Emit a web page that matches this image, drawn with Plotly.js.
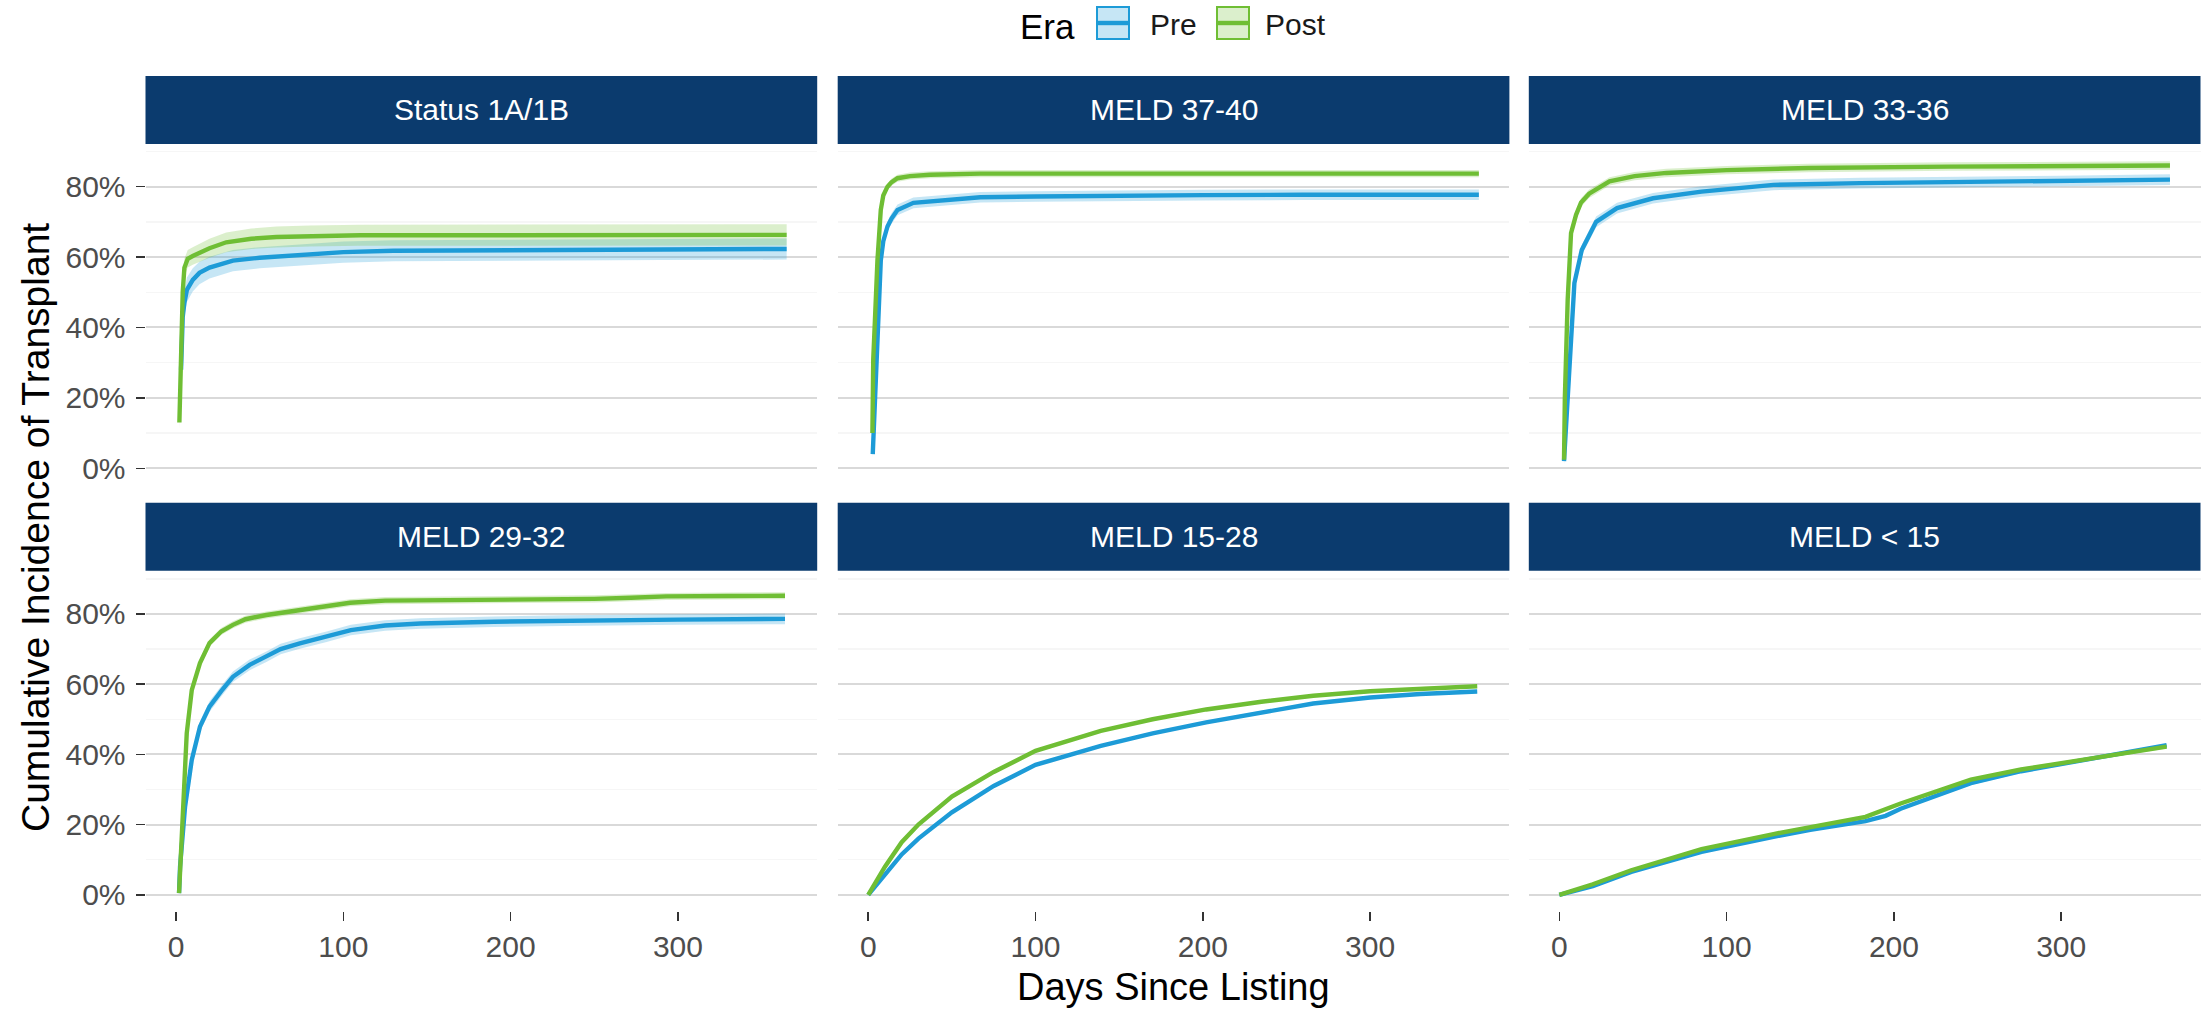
<!DOCTYPE html>
<html>
<head>
<meta charset="utf-8">
<script src="https://cdn.plot.ly/plotly-3.0.1.min.js"></script>
<style>
html,body{margin:0;padding:0;background:#fff;}
#chart{width:2211px;height:1015px;}
</style>
</head>
<body>
<div id="chart"></div>
<script>
// ---------------- DATA ----------------
const panelTitles = ['Status 1A/1B', 'MELD 37-40', 'MELD 33-36', 'MELD 29-32', 'MELD 15-28', 'MELD < 15'];
const eraNames = ['Pre', 'Post'];
const xTickVals = [0, 100, 200, 300];
const yTickVals = [0, 0.2, 0.4, 0.6, 0.8];
const yTickText = ['0%', '20%', '40%', '60%', '80%'];

// Status 1A/1B
const p1PreDay  = [3, 4, 5, 6.5, 10, 14, 20, 34, 50, 74, 100, 130, 200, 280, 365];
const p1PreVal  = [0.28, 0.43, 0.47, 0.507, 0.535, 0.555, 0.57, 0.59, 0.598, 0.606, 0.614, 0.618, 0.62, 0.621, 0.623];
const p1PreHw   = [0.03, 0.035, 0.035, 0.035, 0.033, 0.032, 0.031, 0.03, 0.03, 0.03, 0.03, 0.03, 0.03, 0.03, 0.03];
const p1PostDay = [2, 3, 4, 5, 7, 10, 14, 20, 30, 45, 60, 80, 110, 200, 365];
const p1PostVal = [0.13, 0.35, 0.5, 0.57, 0.595, 0.603, 0.612, 0.625, 0.642, 0.652, 0.657, 0.66, 0.662, 0.662, 0.663];
const p1PostHw  = [0.02, 0.025, 0.025, 0.025, 0.025, 0.025, 0.026, 0.027, 0.028, 0.029, 0.03, 0.03, 0.03, 0.03, 0.03];

// MELD 37-40
const p2PreDay  = [2.7, 4, 5.2, 6.3, 7.5, 9, 11.5, 14, 17.5, 27, 47, 67, 100, 150, 200, 260, 320, 365];
const p2PreVal  = [0.04, 0.2, 0.32, 0.48, 0.59, 0.645, 0.687, 0.71, 0.734, 0.754, 0.763, 0.77, 0.772, 0.775, 0.776, 0.777, 0.777, 0.777];
const p2PreHw   = [0.01, 0.015, 0.015, 0.015, 0.015, 0.015, 0.015, 0.015, 0.015, 0.015, 0.015, 0.015, 0.015, 0.015, 0.015, 0.015, 0.015, 0.015];
const p2PostDay = [2.5, 3, 4, 5.5, 7.5, 9, 11.5, 14, 17.5, 25, 37, 67, 100, 150, 200, 260, 320, 365];
const p2PostVal = [0.10, 0.31, 0.42, 0.59, 0.734, 0.775, 0.80, 0.813, 0.824, 0.83, 0.834, 0.837, 0.837, 0.837, 0.838, 0.838, 0.838, 0.837];
const p2PostHw  = [0.01, 0.01, 0.01, 0.01, 0.01, 0.01, 0.01, 0.01, 0.01, 0.01, 0.01, 0.01, 0.01, 0.01, 0.01, 0.01, 0.01, 0.01];

// MELD 33-36
const p3PreDay  = [2.8, 4, 5, 7, 9, 13.4, 22, 34.5, 56, 85, 128, 180, 233, 300, 365];
const p3PreVal  = [0.02, 0.12, 0.195, 0.384, 0.526, 0.62, 0.70, 0.739, 0.767, 0.786, 0.805, 0.81, 0.812, 0.816, 0.82];
const p3PreHw   = [0.01, 0.015, 0.015, 0.015, 0.015, 0.015, 0.015, 0.015, 0.015, 0.015, 0.015, 0.015, 0.015, 0.015, 0.015];
const p3PostDay = [2.8, 3.3, 5, 7, 10, 13, 17.8, 30, 45, 64, 100, 149, 233, 300, 365];
const p3PostVal = [0.024, 0.2, 0.48, 0.668, 0.72, 0.755, 0.78, 0.815, 0.83, 0.839, 0.847, 0.853, 0.857, 0.859, 0.86];
const p3PostHw  = [0.01, 0.012, 0.012, 0.012, 0.012, 0.012, 0.012, 0.012, 0.012, 0.012, 0.012, 0.012, 0.012, 0.012, 0.012];

// MELD 29-32
const p4PreDay  = [1.8, 2.4, 5.4, 9.4, 14.3, 20, 27, 34, 44, 54, 62.5, 74, 90, 104.5, 125, 146, 190, 230, 300, 364];
const p4PreVal  = [0.005, 0.08, 0.251, 0.384, 0.479, 0.536, 0.58, 0.621, 0.655, 0.678, 0.70, 0.716, 0.735, 0.754, 0.767, 0.773, 0.778, 0.781, 0.784, 0.786];
const p4PreHw   = [0.005, 0.01, 0.015, 0.015, 0.015, 0.015, 0.015, 0.015, 0.015, 0.015, 0.015, 0.015, 0.015, 0.015, 0.015, 0.015, 0.015, 0.015, 0.015, 0.015];
const p4PostDay = [1.8, 3.4, 6.4, 9.4, 14.3, 20, 27, 34, 41.5, 54, 74, 104, 125, 188, 250, 272, 293, 330, 364];
const p4PostVal = [0.005, 0.176, 0.46, 0.583, 0.66, 0.717, 0.75, 0.769, 0.785, 0.797, 0.811, 0.832, 0.838, 0.84, 0.843, 0.846, 0.85, 0.851, 0.852];
const p4PostHw  = [0.005, 0.01, 0.01, 0.01, 0.01, 0.01, 0.01, 0.01, 0.01, 0.01, 0.01, 0.01, 0.01, 0.01, 0.01, 0.01, 0.01, 0.01, 0.01];

// MELD 15-28
const p5PreDay  = [0, 5, 10, 20, 30, 50, 75, 100, 139, 170, 202, 235, 266, 300, 330, 364];
const p5PreVal  = [0, 0.03, 0.06, 0.115, 0.16, 0.235, 0.31, 0.37, 0.424, 0.46, 0.491, 0.52, 0.545, 0.562, 0.572, 0.579];
const p5PreHw   = [0, 0.003, 0.003, 0.004, 0.004, 0.004, 0.004, 0.004, 0.004, 0.004, 0.004, 0.004, 0.004, 0.004, 0.004, 0.004];
const p5PostDay = [0, 5, 10, 20, 30, 50, 75, 100, 139, 170, 202, 235, 266, 300, 330, 364];
const p5PostVal = [0, 0.04, 0.08, 0.15, 0.20, 0.28, 0.35, 0.41, 0.467, 0.50, 0.528, 0.55, 0.567, 0.58, 0.588, 0.594];
const p5PostHw  = [0, 0.003, 0.003, 0.004, 0.004, 0.004, 0.004, 0.004, 0.004, 0.004, 0.004, 0.004, 0.004, 0.004, 0.004, 0.004];

// MELD < 15
const p6PreDay  = [0, 20, 43, 85, 128, 150, 183, 195, 204, 246, 276, 320, 363];
const p6PreVal  = [0, 0.025, 0.065, 0.122, 0.165, 0.185, 0.21, 0.225, 0.245, 0.318, 0.352, 0.39, 0.426];
const p6PreHw   = [0, 0.003, 0.003, 0.004, 0.004, 0.004, 0.004, 0.004, 0.004, 0.005, 0.005, 0.005, 0.005];
const p6PostDay = [0, 20, 43, 85, 128, 150, 183, 204, 246, 276, 320, 363];
const p6PostVal = [0, 0.03, 0.07, 0.13, 0.173, 0.192, 0.222, 0.26, 0.328, 0.357, 0.39, 0.422];
const p6PostHw  = [0, 0.003, 0.003, 0.004, 0.004, 0.004, 0.004, 0.004, 0.005, 0.005, 0.005, 0.005];

// ---------------- STYLE ----------------
const FONT = 'Liberation Sans, Arial, Helvetica, sans-serif';
const W = 2211, H = 1015;
const eraColors = ['#1d9bd7', '#6fbe34'];
const eraFills = ['rgba(29,155,215,0.25)', 'rgba(111,190,52,0.25)'];
const stripColor = '#0b3b6e';

const panelData = [
  [[p1PreDay, p1PreVal, p1PreHw], [p1PostDay, p1PostVal, p1PostHw]],
  [[p2PreDay, p2PreVal, p2PreHw], [p2PostDay, p2PostVal, p2PostHw]],
  [[p3PreDay, p3PreVal, p3PreHw], [p3PostDay, p3PostVal, p3PostHw]],
  [[p4PreDay, p4PreVal, p4PreHw], [p4PostDay, p4PostVal, p4PostHw]],
  [[p5PreDay, p5PreVal, p5PreHw], [p5PostDay, p5PostVal, p5PostHw]],
  [[p6PreDay, p6PreVal, p6PreHw], [p6PostDay, p6PostVal, p6PostHw]]
];

// pixel layout (left,right) per column, (top,bottom) per row
const colPx = [[145.5, 817.2], [837.7, 1509.4], [1528.8, 2200.5]];
const rowPx = [[149.7, 484.1], [577.1, 910.6]];
const stripPx = [[76, 144], [502.7, 570.7]];

const px = v => v / W;
const py = v => 1 - v / H;

const traces = [];
const layout = {
  width: W, height: H,
  margin: {l: 0, r: 0, t: 0, b: 0},
  paper_bgcolor: '#ffffff',
  plot_bgcolor: 'rgba(0,0,0,0)',
  showlegend: false,
  font: {family: FONT, color: '#000'},
  shapes: [],
  annotations: []
};

panelData.forEach((pd, i) => {
  const col = i % 3, row = Math.floor(i / 3);
  const xa = 'x' + (i + 1), ya = 'y' + (i + 1);
  // ribbons first
  pd.forEach((s, e) => {
    const [d, v, hw] = s;
    traces.push({x: d, y: v.map((q, k) => q - hw[k]), xaxis: xa, yaxis: ya, type: 'scatter', mode: 'lines',
      line: {width: 0, color: eraColors[e]}, hoverinfo: 'skip', showlegend: false});
    traces.push({x: d, y: v.map((q, k) => q + hw[k]), xaxis: xa, yaxis: ya, type: 'scatter', mode: 'lines',
      line: {width: 0, color: eraColors[e]}, fill: 'tonexty', fillcolor: eraFills[e], hoverinfo: 'skip', showlegend: false});
  });
  pd.forEach((s, e) => {
    const [d, v] = s;
    traces.push({x: d, y: v, xaxis: xa, yaxis: ya, type: 'scatter', mode: 'lines', name: eraNames[e],
      line: {width: 4.4, color: eraColors[e]}, showlegend: false});
  });

  const xKey = 'xaxis' + (i === 0 ? '' : i + 1);
  const yKey = 'yaxis' + (i === 0 ? '' : i + 1);
  layout[xKey] = {
    domain: [px(colPx[col][0]), px(colPx[col][1])],
    anchor: ya, range: [-18.25, 383.25],
    showgrid: false, zeroline: false, showline: false,
    tickvals: xTickVals, ticktext: xTickVals.map(String),
    showticklabels: row === 1, ticks: row === 1 ? 'outside' : '',
    ticklen: 9, tickwidth: 1.5, tickcolor: '#333333',
    tickfont: {family: FONT, size: 30, color: '#4d4d4d'}
  };
  layout[yKey] = {
    domain: [py(rowPx[row][1]), py(rowPx[row][0])],
    anchor: xa, range: [-0.045, 0.905],
    zeroline: false, showline: false,
    tickvals: yTickVals, ticktext: yTickText,
    showgrid: true, gridcolor: '#d9d9d9', gridwidth: 2,
    minor: {tickvals: [0.1, 0.3, 0.5, 0.7, 0.9], showgrid: true, gridcolor: '#f6f6f6', gridwidth: 1.5, ticks: ''},
    showticklabels: col === 0, ticks: col === 0 ? 'outside' : '',
    ticklen: 9, tickwidth: 1.5, tickcolor: '#333333',
    ticklabelstandoff: 4,
    tickfont: {family: FONT, size: 30, color: '#4d4d4d'}
  };

  // strip
  layout.shapes.push({type: 'rect', xref: 'paper', yref: 'paper',
    x0: px(colPx[col][0]), x1: px(colPx[col][1]),
    y0: py(stripPx[row][1]), y1: py(stripPx[row][0]),
    fillcolor: stripColor, line: {width: 0}, layer: 'below'});
  layout.annotations.push({xref: 'paper', yref: 'paper',
    x: px((colPx[col][0] + colPx[col][1]) / 2), y: py((stripPx[row][0] + stripPx[row][1]) / 2),
    text: panelTitles[i], showarrow: false, xanchor: 'center', yanchor: 'middle',
    font: {family: FONT, size: 30, color: '#ffffff'}});
});

// axis titles
layout.annotations.push({xref: 'paper', yref: 'paper', x: px(1173), y: py(987),
  text: 'Days Since Listing', showarrow: false, xanchor: 'center', yanchor: 'middle',
  font: {family: FONT, size: 38, color: '#000'}});
layout.annotations.push({xref: 'paper', yref: 'paper', x: px(35), y: py(528),
  text: 'Cumulative Incidence of Transplant', showarrow: false, textangle: -90,
  xanchor: 'center', yanchor: 'middle',
  font: {family: FONT, size: 39, color: '#000'}});

// legend (drawn)
layout.annotations.push({xref: 'paper', yref: 'paper', x: px(1018), y: py(27),
  text: 'Era', showarrow: false, xanchor: 'left', yanchor: 'middle',
  font: {family: FONT, size: 35, color: '#000'}});
const legBoxX = [1097, 1217];
const legTextX = [1148, 1263];
eraNames.forEach((nm, e) => {
  layout.shapes.push({type: 'rect', xref: 'paper', yref: 'paper',
    x0: px(legBoxX[e]), x1: px(legBoxX[e] + 32), y0: py(39), y1: py(7),
    fillcolor: eraFills[e], line: {color: eraColors[e], width: 2}});
  layout.shapes.push({type: 'line', xref: 'paper', yref: 'paper',
    x0: px(legBoxX[e]), x1: px(legBoxX[e] + 32), y0: py(23), y1: py(23),
    line: {color: eraColors[e], width: 4.4}});
  layout.annotations.push({xref: 'paper', yref: 'paper', x: px(legTextX[e]), y: py(25),
    text: nm, showarrow: false, xanchor: 'left', yanchor: 'middle',
    font: {family: FONT, size: 30, color: '#1a1a1a'}});
});

Plotly.newPlot('chart', traces, layout, {staticPlot: true, displayModeBar: false});
</script>
</body>
</html>
